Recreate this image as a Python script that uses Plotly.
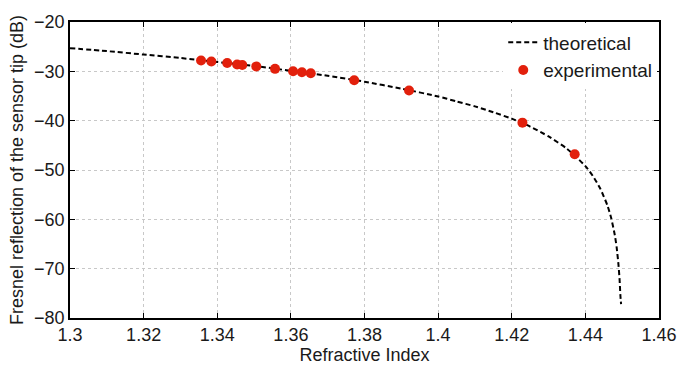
import plotly.graph_objects as go

# theoretical curve
theo_n = [1.30, 1.31, 1.32, 1.33, 1.34, 1.35, 1.36, 1.37, 1.38, 1.39, 1.40, 1.405, 1.41,
          1.415, 1.42, 1.425, 1.43, 1.435, 1.44, 1.442, 1.444, 1.446, 1.447, 1.448,
          1.4485, 1.449, 1.4493, 1.4495, 1.4497]
theo_db = [-25.3, -25.9, -26.6, -27.3, -28.1, -28.9, -29.9, -30.9, -32.1, -33.5, -35.1, -36.1, -37.1,
           -38.3, -39.6, -41.2, -43.2, -45.7, -49.2, -51.2, -53.7, -57.2, -59.7, -63.2,
           -65.7, -69.3, -72.3, -75.3, -77.2]

# experimental points
exp_n = [1.3356, 1.3384, 1.3427, 1.3454, 1.3468, 1.3506, 1.3557, 1.3606, 1.3630, 1.3654,
         1.3772, 1.3921, 1.4229, 1.4371]
exp_db = [-27.8, -28.0, -28.3, -28.6, -28.7, -29.0, -29.5, -30.0, -30.2, -30.4,
          -31.8, -33.9, -40.4, -46.8]

x_ticks = [1.30, 1.32, 1.34, 1.36, 1.38, 1.40, 1.42, 1.44, 1.46]
x_tick_labels = ["1.3", "1.32", "1.34", "1.36", "1.38", "1.4", "1.42", "1.44", "1.46"]
y_ticks = [-80, -70, -60, -50, -40, -30, -20]

fig = go.Figure()
fig.add_trace(go.Scatter(x=theo_n, y=theo_db, mode="lines", name="theoretical",
                         line=dict(color="black", width=2, dash="5px,3px", shape="spline", smoothing=0.6)))
fig.add_trace(go.Scatter(x=exp_n, y=exp_db, mode="markers", name="experimental",
                         marker=dict(color="#e2200c", size=10, line=dict(width=0))))

axis_common = dict(showline=True, linecolor="black", linewidth=1.5, mirror="ticks",
                   ticks="inside", ticklen=5, tickcolor="black", tickwidth=1,
                   showgrid=True, gridcolor="#c8c8c8", griddash="dot", gridwidth=1,
                   zeroline=False, tickfont=dict(size=18, color="#1a1a1a"))

fig.update_xaxes(range=[1.3, 1.46], tickvals=x_ticks, ticktext=x_tick_labels,
                 title=dict(text="Refractive Index", font=dict(size=18, color="#1a1a1a"), standoff=2),
                 **axis_common)
fig.update_yaxes(range=[-80, -20], tickvals=y_ticks,
                 title=dict(text="Fresnel reflection of the sensor tip (dB)", font=dict(size=18, color="#1a1a1a"), standoff=6),
                 **axis_common)

fig.update_layout(width=689, height=372, margin=dict(l=70, r=30, t=15, b=46),
                  plot_bgcolor="white", paper_bgcolor="white",
                  font=dict(family="Liberation Sans, Arial, sans-serif", color="#1a1a1a"),
                  legend=dict(x=0.997, y=0.995, xanchor="right", yanchor="top", bgcolor="white",
                              borderwidth=0, font=dict(size=19), itemwidth=30,
                              tracegroupgap=0))

fig.write_html("out.html")
